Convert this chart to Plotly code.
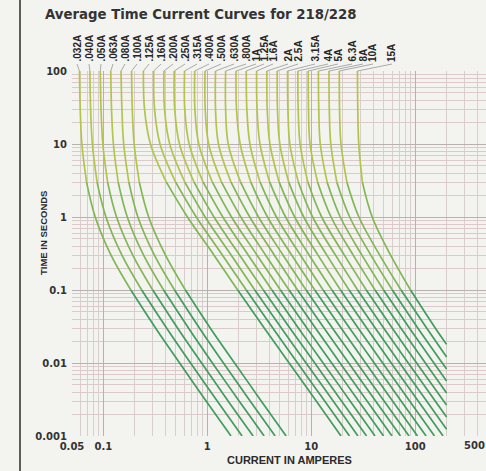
import math
import plotly.graph_objects as go

labels = [".032A", ".040A", ".050A", ".063A", ".080A", ".100A", ".125A", ".160A", ".200A",
          ".250A", ".315A", ".400A", ".500A", ".630A", ".800A", "1A", "1.25A", "1.6A", "2A",
          "2.5A", "3.15A", "4A", "5A", "6.3A", "8A", "10A", "15A"]
times = [100, 30, 10, 3, 1, 0.3, 0.1, 0.03, 0.01, 0.003, 0.001]
currents = [
    [0.0590, 0.0600, 0.0622, 0.0690, 0.0836, 0.1186, 0.184, 0.319, 0.542, 0.977, 1.69],
    [0.0743, 0.0755, 0.0785, 0.0871, 0.106, 0.151, 0.234, 0.407, 0.690, 1.25, 2.16],
    [0.0935, 0.0951, 0.0989, 0.110, 0.134, 0.192, 0.299, 0.519, 0.881, 1.59, 2.76],
    [0.118, 0.120, 0.125, 0.139, 0.170, 0.244, 0.380, 0.661, 1.12, 2.03, 3.52],
    [0.148, 0.151, 0.157, 0.176, 0.215, 0.310, 0.484, 0.842, 1.43, 2.59, 4.49],
    [0.187, 0.190, 0.198, 0.222, 0.273, 0.396, 0.616, 1.07, 1.83, 3.31, 5.73],
    [0.243, 0.249, 0.284, 0.404, 0.644, 1.16, 1.96, 3.54, 6.12, 11.2, 19.3],
    [0.305, 0.311, 0.351, 0.496, 0.783, 1.40, 2.37, 4.28, 7.38, 13.5, 23.3],
    [0.383, 0.388, 0.435, 0.608, 0.953, 1.70, 2.86, 5.17, 8.91, 16.3, 28.1],
    [0.481, 0.486, 0.540, 0.745, 1.16, 2.05, 3.46, 6.24, 10.8, 19.6, 34.0],
    [0.604, 0.607, 0.669, 0.912, 1.41, 2.48, 4.18, 7.53, 13.0, 23.7, 41.0],
    [0.757, 0.760, 0.828, 1.12, 1.71, 3.01, 5.05, 9.10, 15.7, 28.6, 49.5],
    [0.951, 0.955, 1.03, 1.37, 2.10, 3.64, 6.11, 11.0, 18.9, 34.5, 59.7],
    [1.20, 1.20, 1.28, 1.69, 2.56, 4.42, 7.38, 13.3, 22.9, 41.7, 72.1],
    [1.50, 1.50, 1.59, 2.09, 3.11, 5.36, 8.92, 16.0, 27.6, 50.3, 87.1],
    [1.89, 1.91, 2.07, 2.62, 3.79, 6.50, 10.8, 19.4, 33.3, 60.7, 105],
    [2.37, 2.40, 2.57, 3.22, 4.62, 7.88, 13.0, 23.4, 40.3, 73.3, 127],
    [2.98, 3.01, 3.21, 3.98, 5.66, 9.56, 15.8, 28.3, 48.6, 88.5, 153],
    [3.74, 3.77, 4.00, 4.91, 6.92, 11.6, 19.1, 34.2, 58.7, 107, 185],
    [4.70, 4.73, 4.98, 6.07, 8.46, 14.1, 23.1, 41.3, 70.9, 129, None],
    [5.91, 5.96, 6.22, 7.51, 10.3, 17.1, 27.9, 49.8, 85.6, 156, None],
    [7.43, 7.48, 7.80, 9.27, 12.6, 20.8, 33.8, 60.2, 103, 188, None],
    [9.34, 9.40, 9.72, 11.5, 15.5, 25.3, 41.0, 72.8, 125, None, None],
    [11.7, 11.8, 12.2, 14.2, 19.0, 30.7, 49.6, 88.0, 151, None, None],
    [14.8, 14.9, 15.4, 17.6, 23.4, 37.4, 60.2, 106, 182, None, None],
    [18.6, 18.7, 19.3, 22.0, 28.7, 45.5, 72.9, 129, None, None, None],
    [27.8, 28.0, 28.6, 31.0, 38.5, 57.9, 90.0, 156, None, None, None],
]
# time at which a curve leaves the chart at its 200 A right-hand end (None: reaches 0.001 s)
exit_current = 200
exit_times = [None] * 19 + [0.00124, 0.00182, 0.00265, 0.00387, 0.00565, 0.00827, 0.0121, 0.0180]

label_px = [77, 89, 101, 113, 125, 137, 149, 161, 173, 185, 197, 209, 221, 234, 246,
            256, 264, 273, 288, 298, 315, 328, 338, 352, 363, 373, 392]

W, H = 486, 471
ML, MR, MT, MB = 72, 0, 71, 35
PW, PH = W - ML - MR, H - MT - MB
x0, x1 = math.log10(0.05), 2.68
seg_cols = ["#b2c54b", "#7fb853", "#3f9e5d"]
seg_idx = [(0, 4), (3, 7), (6, 11)]

fig = go.Figure()
for cur, te in zip(currents, exit_times):
    pts = [(c, t) for c, t in zip(cur, times)]
    for (a, b), col in zip(seg_idx, seg_cols):
        seg = [p for p in pts[a:b] if p[0] is not None]
        if b == 11 and te is not None:
            seg.append((exit_current, te))
        if len(seg) < 2:
            continue
        fig.add_trace(go.Scatter(x=[p[0] for p in seg], y=[p[1] for p in seg], mode="lines",
                                 line=dict(color=col, width=1.7, shape="spline", smoothing=1.0),
                                 hoverinfo="skip", showlegend=False))


def px_to_paper(px):
    return (px - ML) / PW


def cur_to_px(c):
    return ML + (math.log10(c) - x0) / (x1 - x0) * PW


shapes = []
annotations = []
lab_bottom = 1 + 7 / PH
for lab, cur, lx in zip(labels, currents, label_px):
    cx = cur_to_px(cur[0])
    shapes.append(dict(type="line", xref="paper", yref="paper",
                       x0=px_to_paper(cx), y0=1.0, x1=px_to_paper(lx), y1=lab_bottom,
                       line=dict(color="#8a8a8a", width=0.7)))
    annotations.append(dict(text="<b>" + lab + "</b>", x=px_to_paper(lx), y=lab_bottom, xref="paper", yref="paper",
                            xanchor="center", yanchor="bottom", showarrow=False, textangle=-90,
                            font=dict(family="Liberation Sans Narrow, Arial Narrow, sans-serif",
                                      size=10, color="#262626")))

shapes.append(dict(type="line", xref="paper", yref="paper", x0=px_to_paper(20), x1=px_to_paper(20),
                   y0=-1, y1=2, line=dict(color="#2b2b2b", width=1.5)))

annotations.append(dict(text="<b>Average Time Current Curves for 218/228</b>", x=px_to_paper(43),
                        y=1 + (MT - 14) / PH, xref="paper", yref="paper", xanchor="left", yanchor="middle",
                        showarrow=False, font=dict(family="DejaVu Sans, sans-serif", size=13.3, color="#333333")))
annotations.append(dict(text="<b>TIME IN SECONDS</b>", x=px_to_paper(44), y=1 - (233 - MT) / PH,
                        xref="paper", yref="paper", xanchor="center", yanchor="middle", showarrow=False,
                        textangle=-90,
                        font=dict(family="Liberation Sans Narrow, Arial Narrow, sans-serif", size=9.5,
                                  color="#2a2a2a")))
annotations.append(dict(text="<b>CURRENT IN AMPERES</b>", x=px_to_paper(289), y=-(460 - (MT + PH)) / PH,
                        xref="paper", yref="paper", xanchor="center", yanchor="middle", showarrow=False,
                        font=dict(family="Liberation Sans, Arial, sans-serif", size=11, color="#2a2a2a")))
annotations.append(dict(text="<b>500</b>", x=px_to_paper(474), y=-(445 - (MT + PH)) / PH,
                        xref="paper", yref="paper", xanchor="center", yanchor="middle", showarrow=False,
                        font=dict(family="DejaVu Sans, sans-serif", size=10, color="#333333")))

tickfont = dict(family="DejaVu Sans, sans-serif", size=10, color="#333333")
bg = "#f3f3f0"
fig.update_layout(
    width=W, height=H, margin=dict(l=ML, r=MR, t=MT, b=MB, pad=0),
    paper_bgcolor=bg, plot_bgcolor=bg,
    shapes=shapes, annotations=annotations, showlegend=False,
    xaxis=dict(type="log", range=[x0, x1], tickmode="array",
               tickvals=[0.05, 0.1, 1, 10, 100],
               ticktext=["<b>0.05</b>", "<b>0.1</b>", "<b>1</b>", "<b>10</b>", "<b>100</b>"],
               tickfont=tickfont, ticks="outside", ticklen=1, tickcolor="rgba(0,0,0,0)",
               showgrid=True, gridcolor="#b9b1b1", gridwidth=1,
               minor=dict(tickmode="linear", dtick="D1", showgrid=True, gridcolor="#d9cece", gridwidth=1,
                          ticks=""),
               zeroline=False, showline=False),
    yaxis=dict(type="log", range=[-3, 2], tickmode="array",
               tickvals=[0.001, 0.01, 0.1, 1, 10, 100],
               ticktext=["<b>0.001</b>", "<b>0.01</b>", "<b>0.1</b>", "<b>1</b>", "<b>10</b>", "<b>100</b>"],
               tickfont=tickfont, ticks="outside", ticklen=2, tickcolor="rgba(0,0,0,0)",
               showgrid=True, gridcolor="#b9b1b1", gridwidth=1,
               minor=dict(tickmode="linear", dtick="D1", showgrid=True, gridcolor="#dccaca", gridwidth=1,
                          ticks=""),
               zeroline=False, showline=False),
)
fig.write_html("out.html", config={"displayModeBar": False},
               post_script="document.body.style.margin='0';document.body.style.background='%s';" % bg)
